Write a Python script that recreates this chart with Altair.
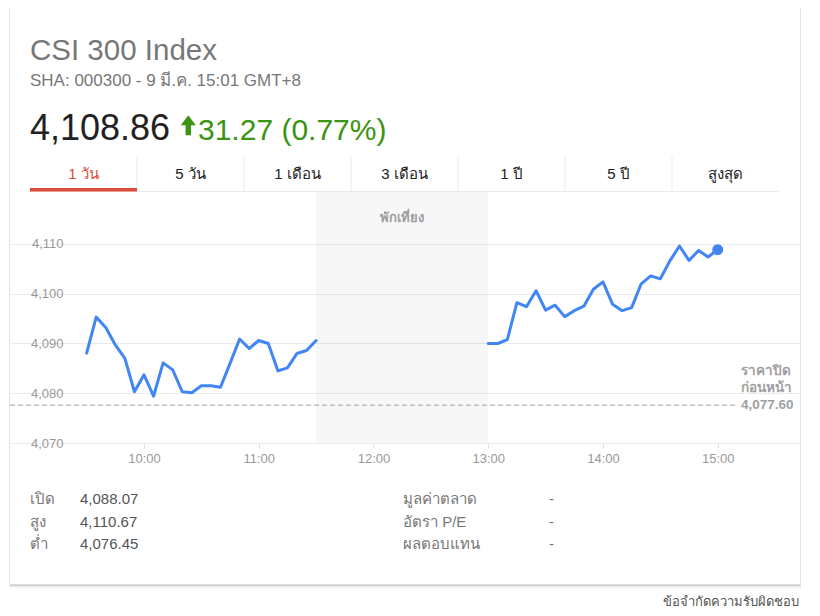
import altair as alt
import pandas as pd

# ---------------- data ----------------
title_text = "CSI 300 Index"
subtitle_text = "SHA: 000300 - 9 มี.ค. 15:01 GMT+8"
price_text = "4,108.86"
change_text = "31.27 (0.77%)"

am_times = ["09:30", "09:35", "09:40", "09:45", "09:50", "09:55", "10:00", "10:05",
            "10:10", "10:15", "10:20", "10:25", "10:30", "10:35", "10:40", "10:45",
            "10:50", "10:55", "11:00", "11:05", "11:10", "11:15", "11:20", "11:25", "11:30"]
am_values = [4088.07, 4095.3, 4093.2, 4089.7, 4087.0, 4080.3, 4083.7, 4079.4,
             4086.1, 4084.7, 4080.3, 4080.1, 4081.5, 4081.5, 4081.2, 4086.0,
             4090.9, 4089.0, 4090.6, 4090.0, 4084.5, 4085.1, 4088.0, 4088.6, 4090.6]

pm_times = ["13:00", "13:05", "13:10", "13:15", "13:20", "13:25", "13:30", "13:35",
            "13:40", "13:45", "13:50", "13:55", "14:00", "14:05", "14:10", "14:15",
            "14:20", "14:25", "14:30", "14:35", "14:40", "14:45", "14:50", "14:55", "15:00"]
pm_values = [4090.0, 4090.0, 4090.8, 4098.2, 4097.4, 4100.6, 4096.7, 4097.7,
             4095.4, 4096.6, 4097.5, 4100.9, 4102.4, 4097.9, 4096.6, 4097.2,
             4102.0, 4103.6, 4103.0, 4106.6, 4109.6, 4106.7, 4108.7, 4107.4, 4108.86]

prev_close = 4077.60
prev_close_label = ["ราคาปิด", "ก่อนหน้า"]
lunch_start, lunch_end = "11:30", "13:00"
lunch_label = "พักเที่ยง"

y_ticks = [4070, 4080, 4090, 4100, 4110]
x_ticks = [10, 11, 12, 13, 14, 15]

tabs = ["1 วัน", "5 วัน", "1 เดือน", "3 เดือน", "1 ปี", "5 ปี", "สูงสุด"]
active_tab = "1 วัน"

stat_labels_left = ["เปิด", "สูง", "ต่ำ"]
stat_values_left = ["4,088.07", "4,110.67", "4,076.45"]
stat_labels_right = ["มูลค่าตลาด", "อัตรา P/E", "ผลตอบแทน"]
stat_values_right = ["-", "-", "-"]
footer_text = "ข้อจำกัดความรับผิดชอบ"

# ---------------- layout helpers ----------------
FONT = "Arial, Liberation Sans, sans-serif"
OX, OY = 10, 12          # page position of the plot origin
W, H = 790, 431          # plot area (x: 10..800, y: 12..443 on the page)
BLUE = "#4285f4"
GREEN = "#3b9412"


def hours(t):
    hh, mm = t.split(":")
    return int(hh) + int(mm) / 60.0


def px(x):
    return x - OX


def py(y):
    return y - OY


line_df = pd.DataFrame({
    "h": [hours(t) for t in am_times] + [hours(t) for t in pm_times],
    "v": am_values + pm_values,
    "session": ["am"] * len(am_times) + ["pm"] * len(pm_times),
})
last_df = line_df.tail(1)

xscale = alt.Scale(domain=[8.83214, 15.71727], nice=False, zero=False)
yscale = alt.Scale(domain=[4070, 4156.633], nice=False, zero=False)

xaxis = alt.Axis(values=x_ticks, labelExpr="datum.value + ':00'", grid=False, domain=False,
                 ticks=True, tickSize=5, tickColor="#e0e0e0", labelFont=FONT, labelFontSize=13,
                 labelColor="#999999", labelPadding=4, title=None)
yaxis = alt.Axis(values=y_ticks, format=",.0f", grid=True, gridColor="#ebebeb", gridWidth=1,
                 domain=False, ticks=False, tickSize=0, labelAlign="right", labelBaseline="middle",
                 labelPadding=-53, labelFont=FONT, labelFontSize=13, labelColor="#999999",
                 title=None)

one = pd.DataFrame({"a": [0]})

# card
card = alt.Chart(one).mark_rect(fillOpacity=0, stroke="#e3e3e3", strokeWidth=1).encode(
    x=alt.value(px(9.5)), x2=alt.value(px(800.5)), y=alt.value(py(6.5)), y2=alt.value(py(584.5)))
shadow1 = alt.Chart(one).mark_rule(color="#d0d0d0", strokeWidth=1.5).encode(
    x=alt.value(px(9.5)), x2=alt.value(px(801)), y=alt.value(py(585.5)))
shadow2 = alt.Chart(one).mark_rule(color="#ebebeb", strokeWidth=1.5).encode(
    x=alt.value(px(10)), x2=alt.value(px(801)), y=alt.value(py(587)))

# header
def header_text(txt, x, y, size, color, weight="normal"):
    return alt.Chart(pd.DataFrame({"t": [txt]})).mark_text(
        align="left", baseline="alphabetic", font=FONT, fontSize=size, color=color,
        fontWeight=weight).encode(x=alt.value(px(x)), y=alt.value(py(y)), text="t:N")

title = header_text(title_text, 30, 59.5, 29.5, "#777777")
subtitle = header_text(subtitle_text, 30, 86, 17, "#777777")
price = header_text(price_text, 30, 140, 36, "#222222")
change = header_text(change_text, 198, 140, 30, GREEN)
arrow = alt.Chart(one).mark_point(
    shape="M0,-1 L0.75,0 L0.27,0 L0.27,1 L-0.27,1 L-0.27,0 L-0.75,0 Z",
    filled=True, size=400, color=GREEN, opacity=1, strokeWidth=0).encode(
    x=alt.value(px(188.3)), y=alt.value(py(125.3)))

# tabs
tab_df = pd.DataFrame({
    "label": tabs,
    "cx": [px(30 + 107 * (i + 0.5)) for i in range(len(tabs))],
    "col": ["#dd4b39" if t == active_tab else "#222222" for t in tabs],
})
tab_text = alt.Chart(tab_df).mark_text(font=FONT, fontSize=15, baseline="middle", align="center").encode(
    x=alt.X("cx:Q", scale=None), y=alt.value(py(174)), text="label:N",
    color=alt.Color("col:N", scale=None))
sep_df = pd.DataFrame({"sx": [px(137 + 107 * k) for k in range(len(tabs) - 1)]})
tab_sep = alt.Chart(sep_df).mark_rule(color="#ebebeb").encode(
    x=alt.X("sx:Q", scale=None), y=alt.value(py(156)), y2=alt.value(py(191)))
tab_border = alt.Chart(one).mark_rule(color="#ebebeb").encode(
    x=alt.value(px(30)), x2=alt.value(px(779)), y=alt.value(py(191.5)))
tab_active = alt.Chart(one).mark_rect(color="#dd4b39").encode(
    x=alt.value(px(30)), x2=alt.value(px(137)), y=alt.value(py(188)), y2=alt.value(py(191.5)))

# lunch break band
lunch_df = pd.DataFrame({"h0": [hours(lunch_start)], "h1": [hours(lunch_end)],
                         "hm": [(hours(lunch_start) + hours(lunch_end)) / 2], "t": [lunch_label]})
lunch = alt.Chart(lunch_df).mark_rect(color="#000000", opacity=0.03).encode(
    x=alt.X("h0:Q", scale=xscale, axis=xaxis), x2="h1:Q",
    y=alt.value(py(192)), y2=alt.value(H))
lunch_txt = alt.Chart(lunch_df).mark_text(font=FONT, fontSize=13, fontWeight="bold",
                                          color="#9e9e9e", baseline="middle").encode(
    x=alt.X("hm:Q", scale=xscale, axis=xaxis), y=alt.value(py(218)), text="t:N")

# previous close
pc_df = pd.DataFrame({"v": [prev_close], "t": [format(prev_close, ",.2f")]})
pc_rule = alt.Chart(pc_df).mark_rule(color="#bdbdbd", strokeDash=[5, 3], strokeWidth=1.5).encode(
    y=alt.Y("v:Q", scale=yscale, axis=yaxis), x=alt.value(0), x2=alt.value(px(735)))
pc_texts = []
for dy, txt in [(-34.5, prev_close_label[0]), (-17.5, prev_close_label[1]), (0, None)]:
    d = pc_df.copy()
    if txt is not None:
        d["t"] = txt
    pc_texts.append(alt.Chart(d).mark_text(font=FONT, fontSize=13.5, fontWeight="bold",
                                           color="#a0a0a0", align="left", baseline="middle",
                                           dy=dy).encode(
        y=alt.Y("v:Q", scale=yscale, axis=yaxis), x=alt.value(px(741)), text="t:N"))

# price line
line = alt.Chart(line_df).mark_line(color=BLUE, strokeWidth=3, strokeJoin="round",
                                    strokeCap="round").encode(
    x=alt.X("h:Q", scale=xscale, axis=xaxis),
    y=alt.Y("v:Q", scale=yscale, axis=yaxis),
    detail="session:N")
dot = alt.Chart(last_df).mark_circle(color=BLUE, size=120, opacity=1).encode(
    x=alt.X("h:Q", scale=xscale, axis=xaxis),
    y=alt.Y("v:Q", scale=yscale, axis=yaxis))

# stats
rows_y = [py(499), py(521.5), py(544)]
stats_df = pd.DataFrame({
    "t": stat_labels_left + stat_values_left + stat_labels_right + stat_values_right,
    "sx": [px(30)] * 3 + [px(80)] * 3 + [px(403)] * 3 + [px(549)] * 3,
    "sy": rows_y * 4,
    "col": ["#777777"] * 3 + ["#555555"] * 3 + ["#777777"] * 3 + ["#777777"] * 3,
})
stats = alt.Chart(stats_df).mark_text(font=FONT, fontSize=15, align="left", baseline="middle").encode(
    x=alt.X("sx:Q", scale=None), y=alt.Y("sy:Q", scale=None), text="t:N",
    color=alt.Color("col:N", scale=None))

footer = alt.Chart(pd.DataFrame({"t": [footer_text]})).mark_text(
    font=FONT, fontSize=13, color="#555555", align="right", baseline="middle").encode(
    x=alt.value(px(799)), y=alt.value(py(602)), text="t:N")

chart = alt.layer(
    card, shadow1, shadow2, lunch, tab_border, tab_sep, tab_active, tab_text,
    title, subtitle, price, change, arrow, lunch_txt, pc_rule, *pc_texts,
    line, dot, stats, footer
).properties(
    width=W, height=H,
    autosize=alt.AutoSizeParams(type="none"),
    padding={"left": 2, "top": 4, "right": 12, "bottom": 165},
    background="white",
).configure_view(strokeWidth=0)

chart.save("out.html", embed_options={"renderer": "svg", "actions": False})
